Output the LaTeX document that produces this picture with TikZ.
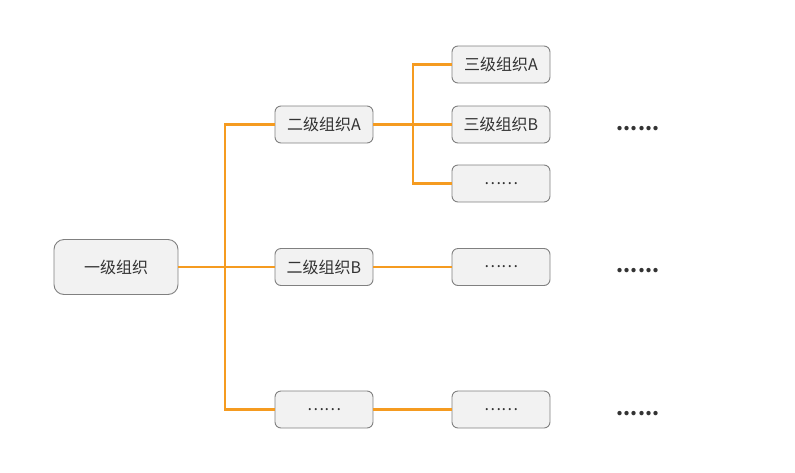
\documentclass[tikz,border=0pt]{standalone}
\usepackage{fontspec}
\setmainfont{Noto Sans CJK SC}
\usetikzlibrary{positioning}
\definecolor{linkorange}{RGB}{245,155,32}
\definecolor{boxfill}{RGB}{242,242,242}
\definecolor{boxline}{RGB}{128,128,128}
\definecolor{textgray}{RGB}{51,51,51}

\begin{document}
\begin{tikzpicture}[x=1pt, y=-1pt,
    org/.style={draw=boxline, fill=boxfill, rounded corners=6pt, line width=0.9pt,
        minimum width=98pt, minimum height=37pt, inner sep=0pt,
        text=textgray, font=\fontsize{16}{18}\selectfont},
    link/.style={draw=linkorange, line width=2.2pt},
    more/.style={text=textgray, font=\fontsize{20}{22}\selectfont\bfseries}]
    \useasboundingbox (0,0) rectangle (795,472);

    \node [org, minimum width=124pt, minimum height=55pt, rounded corners=10pt] (root) at (116,267) {一级组织};

    \node [org] (l2a) at (324,124.5) {二级组织A};
    \node [org] (l2b) at (324,267) {二级组织B};
    \node [org] (l2c) at (324,409.5) {……};

    \node [org] (l3a) at (501,64.5) {三级组织A};
    \node [org] (l3b) at (501,124.5) {三级组织B};
    \node [org] (l3c) at (501,183.5) {……};
    \node [org] (l3d) at (501,267) {……};
    \node [org] (l3e) at (501,409.5) {……};

    \node [more] (m1) at (638,129) {......};
    \node [more] (m2) at (638,271) {......};
    \node [more] (m3) at (638,414) {......};

    \coordinate (j1) at (225,267);
    \coordinate (j2) at (413,124.5);

    \draw [link] (root.east) -- (j1) |- (l2a.west);
    \draw [link] (j1) |- (l2c.west);
    \draw [link] (j1) -- (l2b.west);

    \draw [link] (l2a.east) -- (j2) |- (l3a.west);
    \draw [link] (j2) |- (l3c.west);
    \draw [link] (j2) -- (l3b.west);

    \draw [link] (l2b.east) -- (l3d.west);
    \draw [link] (l2c.east) -- (l3e.west);
\end{tikzpicture}
\end{document}
